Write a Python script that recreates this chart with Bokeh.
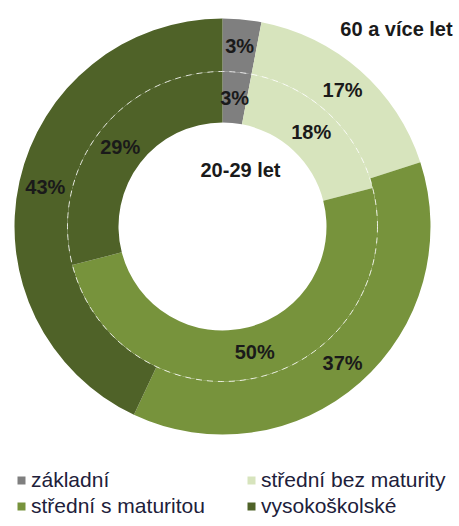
import math
from bokeh.plotting import figure
from bokeh.models import ColumnDataSource, Legend, LegendItem, Range1d
from bokeh.core.properties import value
from bokeh.embed import file_html
from bokeh.resources import INLINE

categories = ["základní", "střední bez maturity", "střední s maturitou", "vysokoškolské"]
colors = ["#7f7f7f", "#d7e4bd", "#77933c", "#4f6228"]
outer_values = [3, 17, 37, 43]   # 60 a více let
inner_values = [3, 18, 50, 29]   # 20-29 let
outer_title = "60 a více let"
inner_title = "20-29 let"

R_HOLE, R_MID, R_OUT = 104, 155, 208

def ring(vals, r0, r1):
    tot = float(sum(vals))
    starts, ends, lx, ly, labels = [], [], [], [], []
    cum = 0.0
    for v in vals:
        a0 = math.pi / 2 - 2 * math.pi * cum / tot
        a1 = math.pi / 2 - 2 * math.pi * (cum + v) / tot
        starts.append(a0); ends.append(a1)
        am = (a0 + a1) / 2
        rm = (r0 + r1) / 2
        lx.append(rm * math.cos(am)); ly.append(rm * math.sin(am))
        labels.append(f"{v}%")
        cum += v
    return ColumnDataSource(dict(start=starts, end=ends, color=colors, cat=categories,
                                 lx=lx, ly=ly, label=labels))

W, H = 459, 526
cx, cy = 222, 226  # centre position inside frame (from left, from top)
p = figure(width=W, height=H, output_backend="svg", toolbar_location=None,
           x_range=Range1d(-cx, W - cx), y_range=Range1d(cy - H, cy),
           min_border=0, outline_line_color=None)
p.axis.visible = False
p.grid.visible = False

src_out = ring(outer_values, R_MID, R_OUT)
src_in = ring(inner_values, R_HOLE, R_MID)

r_out = p.annular_wedge(x=0, y=0, inner_radius=R_MID, outer_radius=R_OUT,
                        start_angle="start", end_angle="end", direction="clock",
                        fill_color="color", line_color=None, source=src_out)
p.annular_wedge(x=0, y=0, inner_radius=R_HOLE, outer_radius=R_MID,
                start_angle="start", end_angle="end", direction="clock",
                fill_color="color", line_color=None, source=src_in)
p.circle(x=0, y=0, radius=R_MID, fill_color=None, line_color="#ffffff",
         line_width=1, line_dash="6 5", line_alpha=0.8)

FS = "20px"
for src in (src_out, src_in):
    p.text(x="lx", y="ly", text="label", source=src, text_align="center",
           text_baseline="middle", text_font=value("Liberation Sans"),
           text_font_style="bold", text_font_size=FS, text_color="#1a1a1a")

p.text(x=[18], y=[57], text=[inner_title], text_align="center", text_baseline="middle",
       text_font=value("Liberation Sans"), text_font_style="bold",
       text_font_size=FS, text_color="#1a1a1a")
p.text(x=[174], y=[198], text=[outer_title], text_align="center", text_baseline="middle",
       text_font=value("Liberation Sans"), text_font_style="bold",
       text_font_size=FS, text_color="#1a1a1a")

common = dict(glyph_width=10, glyph_height=10, label_standoff=5, spacing=2,
              padding=0, margin=0, border_line_color=None, background_fill_alpha=0,
              label_text_font="Liberation Sans", label_text_font_size="21px",
              label_text_color="#20203a", label_height=21)
leg1 = Legend(items=[LegendItem(label=categories[i], renderers=[r_out], index=i) for i in (0, 2)],
              location=(16, 8), orientation="vertical", **common)
leg2 = Legend(items=[LegendItem(label=categories[i], renderers=[r_out], index=i) for i in (1, 3)],
              location=(246, 8), orientation="vertical", **common)
p.add_layout(leg1, "center")
p.add_layout(leg2, "center")

open("out.html", "w").write(file_html(p, INLINE))
